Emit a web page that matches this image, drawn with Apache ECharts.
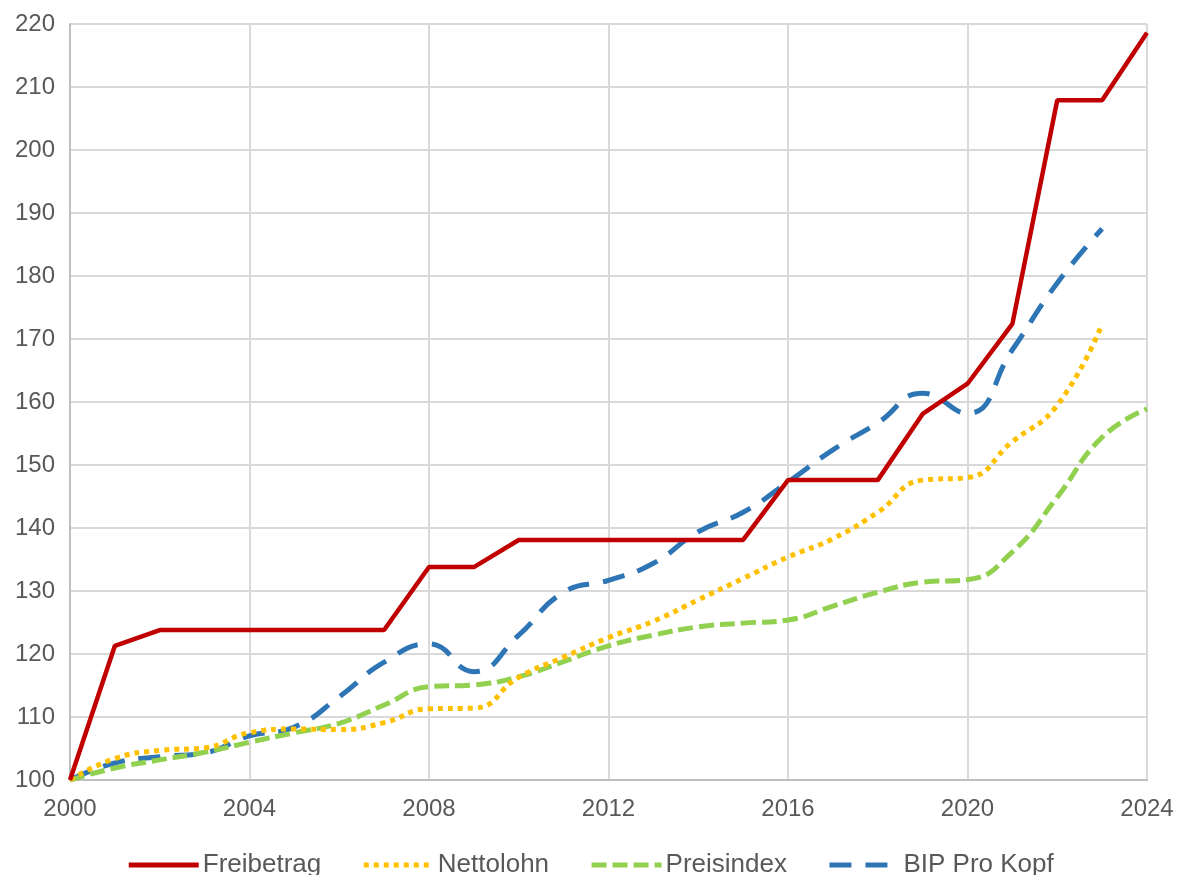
<!DOCTYPE html>
<html>
<head>
<meta charset="utf-8">
<script src="https://cdn.jsdelivr.net/npm/echarts@6/dist/echarts.min.js"></script>
<style>
html,body{margin:0;padding:0;background:#fff;}
#chart{width:1180px;height:875px;}
</style>
</head>
<body>
<div id="chart"></div>
<script>
const years = [2000,2001,2002,2003,2004,2005,2006,2007,2008,2009,2010,2011,2012,2013,2014,2015,2016,2017,2018,2019,2020,2021,2022,2023,2024];
const freibetrag = [100,121.3,123.8,123.8,123.8,123.8,123.8,123.8,133.8,133.8,138.1,138.1,138.1,138.1,138.1,138.1,147.6,147.6,147.6,158.1,162.9,172.4,207.9,207.9,218.6];
const nettolohn = [100,103.4,104.7,105.1,107.5,108.1,108.0,109.1,111.3,111.4,116.3,119.5,122.6,125.2,128.6,132.0,135.4,138.3,142.5,147.6,148.0,153.7,159.5,172.4];
const preisindex = [100,101.9,103.2,104.4,106.0,107.5,109.0,111.9,114.8,115.1,116.4,118.8,121.3,123.0,124.3,124.9,125.4,127.6,129.8,131.4,131.8,136.2,144.9,154.4,158.9];
const bip = [100,102.7,103.7,104.3,107.0,108.4,113.2,118.7,121.6,117.2,123.0,129.8,131.7,134.4,139.4,142.5,147.3,152.4,156.7,161.4,158.2,168.3,178.9,187.5];
const seriesNames = ['Freibetrag','Nettolohn','Preisindex','BIP Pro Kopf'];
const xTicks = {min:2000, max:2024, interval:4};
const yTicks = {min:100, max:220, interval:10};

function pairs(vals){ return vals.map((v,i)=>[years[i], v]); }

const chart = echarts.init(document.getElementById('chart'));
const font = '"Liberation Sans", Arial, sans-serif';
chart.setOption({
  animation:false,
  backgroundColor:'#ffffff',
  grid:{left:70, right:33, top:24, bottom:95, containLabel:false},
  xAxis:{
    type:'value', min:xTicks.min, max:xTicks.max, interval:xTicks.interval,
    axisLine:{show:true, lineStyle:{color:'#bfbfbf', width:2}},
    axisTick:{show:false},
    axisLabel:{color:'#595959', fontSize:24, fontFamily:font, margin:17, formatter:v=>String(v)},
    splitLine:{show:true, lineStyle:{color:'#d9d9d9', width:2}}
  },
  yAxis:{
    type:'value', min:yTicks.min, max:yTicks.max, interval:yTicks.interval,
    axisLine:{show:true, lineStyle:{color:'#bfbfbf', width:2}},
    axisTick:{show:false},
    axisLabel:{color:'#595959', fontSize:24, fontFamily:font, margin:15},
    splitLine:{show:true, lineStyle:{color:'#d9d9d9', width:2}}
  },
  legend:{
    bottom:-8, left:'center',
    itemWidth:70, itemHeight:14, itemGap:40,
    itemStyle:{opacity:0},
    lineStyle:{width:5},
    textStyle:{color:'#595959', fontSize:26, fontFamily:font, padding:[0,0,0,-1]},
    data:seriesNames
  },
  series:[
    {name:seriesNames[0], type:'line', data:pairs(freibetrag), symbol:'none', smooth:false,
     lineStyle:{color:'#C00000', width:4.5}, itemStyle:{color:'#C00000'}, z:4},
    {name:seriesNames[1], type:'line', data:pairs(nettolohn), symbol:'none', smooth:0.5,
     lineStyle:{color:'#FFC000', width:5, type:[5,5]}, itemStyle:{color:'#FFC000'}, z:3},
    {name:seriesNames[2], type:'line', data:pairs(preisindex), symbol:'none', smooth:0.5,
     lineStyle:{color:'#92D050', width:5, type:[15,6]}, itemStyle:{color:'#92D050'}, z:2},
    {name:seriesNames[3], type:'line', data:pairs(bip), symbol:'none', smooth:0.5,
     lineStyle:{color:'#2E75B6', width:5, type:[22,14]}, itemStyle:{color:'#2E75B6'}, z:1}
  ]
});
</script>
</body>
</html>
